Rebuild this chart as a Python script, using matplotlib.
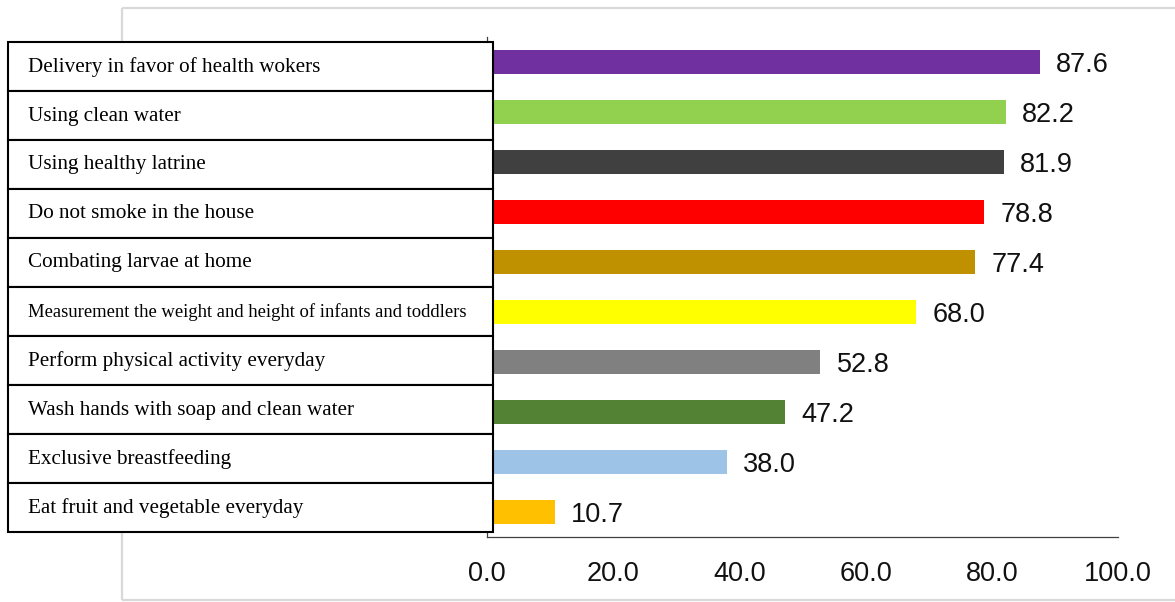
import matplotlib
matplotlib.use("Agg")
import matplotlib.pyplot as plt
from matplotlib.patches import Rectangle
from matplotlib.lines import Line2D

# Data (top row first)
categories = [
    "Delivery in favor of health wokers",
    "Using clean water",
    "Using healthy latrine",
    "Do not smoke in the house",
    "Combating larvae at home",
    "Measurement the weight and height of infants and toddlers",
    "Perform physical activity everyday",
    "Wash hands with soap and clean water",
    "Exclusive breastfeeding",
    "Eat fruit and vegetable everyday",
]
values = [87.6, 82.2, 81.9, 78.8, 77.4, 68.0, 52.8, 47.2, 38.0, 10.7]
bar_colors = ["#7030A0", "#92D050", "#404040", "#FF0000", "#BF9000",
              "#FFFF00", "#808080", "#548235", "#9DC3E6", "#FFC000"]
x_ticks = [0, 20, 40, 60, 80, 100]
x_tick_labels = ["0.0", "20.0", "40.0", "60.0", "80.0", "100.0"]

W, H = 1175, 602
fig = plt.figure(figsize=(W / 100, H / 100), dpi=100)
fig.patch.set_facecolor("white")

# Main bar axes
ax = fig.add_axes([487 / W, 1 - 537 / H, (1118 - 487) / W, 500 / H])
n = len(values)
ypos = list(range(n))
ax.barh(ypos, values, height=0.48, color=bar_colors, zorder=2)
ax.set_xlim(0, 100)
ax.set_ylim(n - 0.5, -0.5)

for y, v in zip(ypos, values):
    ax.text(v + 2.6, y, f"{v:.1f}", va="center_baseline", ha="left",
            fontsize=19.5, family="Liberation Sans", color="#111111")

ax.set_xticks(x_ticks)
ax.set_xticklabels(x_tick_labels, fontsize=19.5, family="Liberation Sans",
                   color="#111111")
ax.tick_params(axis="x", length=0, pad=17)
ax.set_yticks([])
for side in ("top", "right"):
    ax.spines[side].set_visible(False)
for side in ("left", "bottom"):
    ax.spines[side].set_color("#404040")
    ax.spines[side].set_linewidth(0.9)
ax.set_facecolor("none")

# Overlay in pixel coordinates for the outer frame and the label table
ov = fig.add_axes([0, 0, 1, 1], zorder=5)
ov.set_xlim(0, W)
ov.set_ylim(H, 0)
ov.axis("off")
ov.patch.set_alpha(0)

frame_kw = dict(color="#d9d9d9", lw=1.6, solid_capstyle="butt", zorder=0.5)
ov.add_line(Line2D([122, W], [8, 8], **frame_kw))
ov.add_line(Line2D([122, 122], [8, 600], **frame_kw))
ov.add_line(Line2D([122, W], [600, 600], **frame_kw))

tbl_left, tbl_right, tbl_top, row_h = 8, 493, 42, 49
for i, label in enumerate(categories):
    top = tbl_top + i * row_h
    ov.add_patch(Rectangle((tbl_left, top), tbl_right - tbl_left, row_h,
                           facecolor="white", edgecolor="black", lw=1.5,
                           zorder=2))
    fs = 13.4 if len(label) > 45 else 15.2
    ov.text(28, top + row_h / 2 + 0.5, label, ha="left", va="center",
            fontsize=fs, family="Liberation Serif", color="black", zorder=3)

fig.savefig("out.png", dpi=100)
